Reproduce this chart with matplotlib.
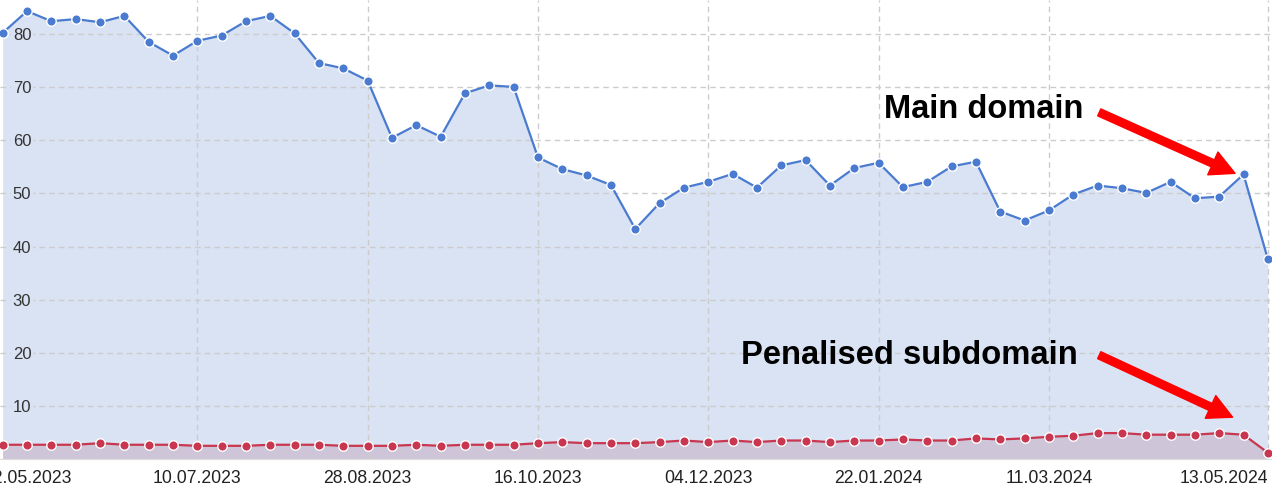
import matplotlib
matplotlib.use('Agg')
import matplotlib.pyplot as plt
import numpy as np

plt.rcParams['font.family'] = ['Liberation Sans', 'DejaVu Sans']

# weekly values, 15.05.2023 .. 13.05.2024
main_domain = [80.3, 84.4, 82.5, 82.9, 82.3, 83.5, 78.6, 76.0, 78.8, 79.8,
               82.5, 83.5, 80.2, 74.6, 73.6, 71.3, 60.5, 62.9, 60.7, 68.9,
               70.4, 70.1, 56.8, 54.6, 53.4, 51.6, 43.3, 48.2, 51.1, 52.2,
               53.7, 51.1, 55.3, 56.3, 51.5, 54.8, 55.8, 51.2, 52.2, 55.1,
               56.0, 46.6, 44.9, 46.8, 49.8, 51.5, 51.0, 50.1, 52.2, 49.1,
               49.4, 53.6, 37.6]
subdomain = [2.6, 2.6, 2.6, 2.6, 2.9, 2.6, 2.6, 2.6, 2.4, 2.4,
             2.4, 2.6, 2.6, 2.6, 2.4, 2.4, 2.4, 2.6, 2.4, 2.6,
             2.6, 2.6, 2.9, 3.1, 2.9, 2.9, 2.9, 3.1, 3.4, 3.1,
             3.4, 3.1, 3.4, 3.4, 3.1, 3.4, 3.4, 3.6, 3.4, 3.4,
             3.8, 3.6, 3.8, 4.1, 4.3, 4.8, 4.8, 4.5, 4.5, 4.5,
             4.8, 4.5, 1.1]
tick_pos = [1, 8, 15, 22, 29, 36, 43, 52]
tick_labels = ['22.05.2023', '10.07.2023', '28.08.2023', '16.10.2023',
               '04.12.2023', '22.01.2024', '11.03.2024', '13.05.2024']
y_ticks = [10, 20, 30, 40, 50, 60, 70, 80]

blue = '#4a7bd0'
blue_fill = '#dae3f3'
red = '#c8364f'
red_fill = '#cec6d8'

x = np.arange(len(main_domain))

fig = plt.figure(figsize=(12.72, 4.92), dpi=100)
ax = fig.add_axes([0, 0.068, 1, 0.932])

ax.fill_between(x, 0, main_domain, color=blue_fill, lw=0, zorder=1)
ax.fill_between(x, 0, subdomain, color=red_fill, lw=0, zorder=1)
ax.plot(x, main_domain, '-o', color=blue, lw=1.6, ms=6.8, mec='white', mew=1.0, zorder=4)
ax.plot(x, subdomain, '-o', color=red, lw=1.6, ms=6.8, mec='white', mew=1.0, zorder=4)

ax.set_xlim(-0.111, 52.17)
ax.set_ylim(0, 86.5)

ax.set_xticks(tick_pos)
ax.set_xticklabels(tick_labels, fontsize=12.7, color='#222222')
ax.get_xticklabels()[-1].set_ha('right')
ax.set_yticks(y_ticks)
ax.set_yticklabels([str(v) for v in y_ticks], fontsize=12, color='#333333')
ax.tick_params(axis='x', length=0, pad=8)
ax.tick_params(axis='y', length=0, pad=-22.5)
for lab in ax.get_yticklabels():
    lab.set_bbox(dict(facecolor=blue_fill, edgecolor='none', pad=1.5))

# grid sits above the fills, below the lines
ax.set_axisbelow(False)
ax.grid(True, color='#cccccc', linestyle=(0, (4, 3)), lw=1.0)
ax.get_xgridlines()[0].set_visible(False)

for s in ['top', 'right', 'left']:
    ax.spines[s].set_visible(False)
ax.spines['bottom'].set_color('#dddddd')

arrow = dict(arrowstyle='simple,head_width=1.8,head_length=1.75,tail_width=0.55',
             color='#ff0000', mutation_scale=10, shrinkA=0, shrinkB=0)
ax.annotate('', xy=(50.65, 53.8), xytext=(45.07, 65.3), arrowprops=arrow, zorder=5)
ax.annotate('', xy=(50.55, 7.8), xytext=(45.07, 19.5), arrowprops=arrow, zorder=5)
ax.text(44.4, 65.8, 'Main domain', ha='right', va='center', fontsize=23.5,
        fontweight='bold', color='black', zorder=5)
ax.text(44.2, 19.5, 'Penalised subdomain', ha='right', va='center', fontsize=23.6,
        fontweight='bold', color='black', zorder=5)

fig.savefig('out.png', dpi=100)
